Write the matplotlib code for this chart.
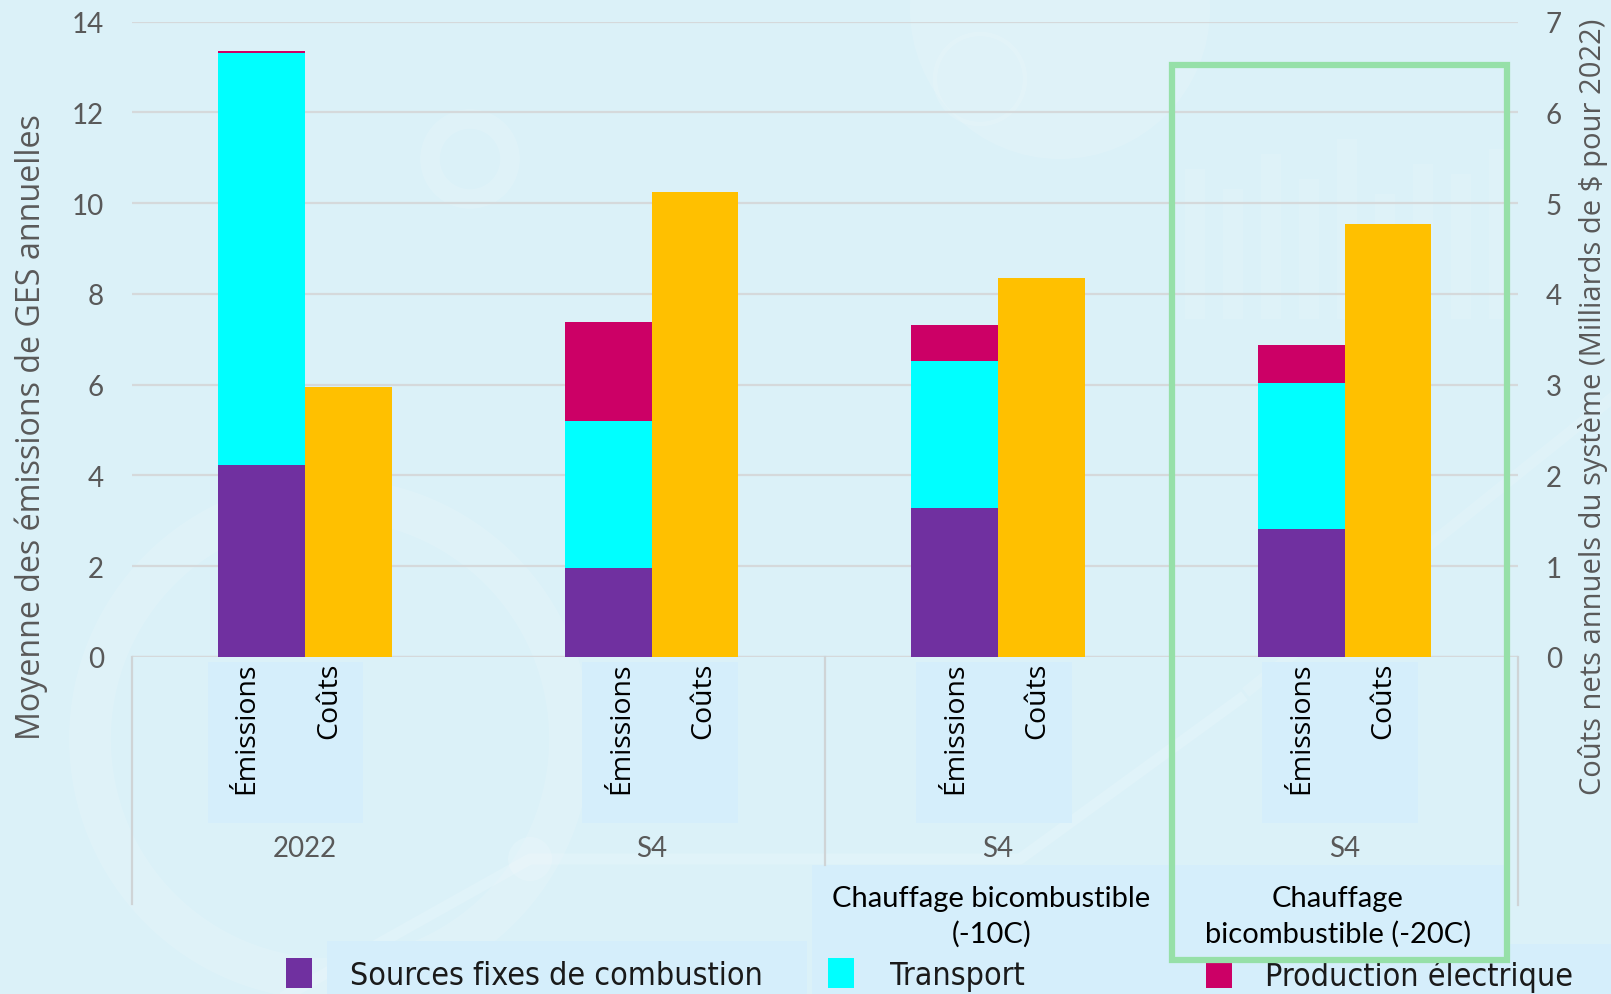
import matplotlib
matplotlib.use("Agg")
import matplotlib.pyplot as plt
from matplotlib import font_manager as fm
from matplotlib.patches import Rectangle, Circle
from matplotlib.transforms import blended_transform_factory

# ---- data -------------------------------------------------------------
scenarios = ["2022", "S4", "S4", "S4"]
bar_labels = ["Émissions", "Coûts"]
heating_labels = ["", "", "Chauffage bicombustible\n(-10C)", "Chauffage\nbicombustible (-20C)"]

# annual GHG emissions by source (left axis)
fixed_combustion = [4.23, 1.97, 3.28, 2.81]
transport = [9.07, 3.22, 3.24, 3.22]
electricity = [0.05, 2.20, 0.80, 0.84]
# annual net system costs, billions of 2022 $ (right axis)
net_costs = [2.97, 5.12, 4.17, 4.77]

series_names = ["Sources fixes de combustion", "Transport", "Production électrique"]
series_colors = ["#7030A0", "#00FFFF", "#CC0066"]
cost_color = "#FFC000"

# ---- fonts ------------------------------------------------------------
_fonts = fm.fontManager.ttflist
_names = {f.name for f in _fonts}
if "Liberation Sans Narrow" in _names:
    legend_font = dict(family="Liberation Sans Narrow", fontsize=25)
elif any(f.name == "DejaVu Sans" and "condensed" in str(f.stretch) for f in _fonts):
    legend_font = dict(family="DejaVu Sans", fontstretch="condensed", fontsize=23)
else:
    legend_font = dict(family="Lato", fontsize=24.5)

# ---- figure -----------------------------------------------------------
W, H = 1611, 995
fig = plt.figure(figsize=(W / 100, H / 100), dpi=100)
bg = "#dbf1f8"
fig.patch.set_facecolor(bg)

def px(x0, y0, x1, y1):
    """figure-fraction rectangle from pixel corners (top-left origin)"""
    return [x0 / W, 1 - y1 / H, (x1 - x0) / W, (y1 - y0) / H]

def fig_rect(x0, y0, x1, y1, **kw):
    r = px(x0, y0, x1, y1)
    fig.add_artist(Rectangle((r[0], r[1]), r[2], r[3], transform=fig.transFigure, **kw))

# faint decorative shapes on the backdrop
deco = fig.add_axes([0, 0, 1, 1], zorder=-5)
deco.set_xlim(0, W)
deco.set_ylim(H, 0)
deco.axis("off")
for (cx, cy, r, lw) in [(330, 740, 240, 30), (980, 80, 45, 3), (470, 160, 40, 14)]:
    deco.add_patch(Circle((cx, cy), r, fill=False, ec="white", lw=lw, alpha=0.13))
deco.add_patch(Circle((1060, 10), 150, fc="white", ec="none", alpha=0.12))
deco.plot([280, 530, 1020, 1240], [1000, 860, 860, 700], color="white", lw=8, alpha=0.15)
deco.plot([1250, 1611], [690, 400], color="white", lw=8, alpha=0.12)
deco.add_patch(Circle((530, 860), 22, fc="white", ec="none", alpha=0.15))
for i, h in enumerate([300, 260, 330, 280, 360, 250, 310, 290, 340]):
    deco.add_patch(Rectangle((1185 + i * 38, 320 - h * 0.5), 20, h * 0.5,
                             fc="white", ec="none", alpha=0.1))

# light boxes behind the category text (offsets within each group slot)
box_col = "#d5eefb"
slot = (1518 - 131.6) / 4
box_offsets = [0.219, 0.299, 0.262, 0.262]
for k, off in enumerate(box_offsets):
    x0 = 131.6 + (k + off) * slot
    fig_rect(x0, 663, x0 + 0.45 * slot, 824, fc=box_col, ec="none", zorder=0)
for (x0, x1, y0, y1) in [(812, 1172, 866, 995), (1172, 1506, 866, 958),
                         (327, 807, 942, 995), (1172, 1611, 945, 995)]:
    fig_rect(x0, y0, x1, y1, fc=box_col, ec="none", zorder=0)

# ---- main axes --------------------------------------------------------
ax = fig.add_axes(px(131.6, 22.6, 1518, 658))
ax.set_facecolor("none")
ax.set_xlim(0, 4)
ax.set_ylim(0, 14)
ax.set_yticks(range(0, 15, 2))
ax.grid(axis="y", color="#d5d9db", lw=1.6)
ax.set_axisbelow(True)
for s in ax.spines.values():
    s.set_visible(False)
ax.axhline(0, color="#d5d9db", lw=1.6, zorder=1)
ax.tick_params(axis="y", length=0, pad=20, labelsize=20, labelcolor="#595959")
ax.tick_params(axis="x", length=0, labelbottom=False)
for lab in ax.get_yticklabels():
    lab.set_fontfamily("Lato")

ax2 = ax.twinx()
ax2.set_ylim(0, 7)
ax2.set_yticks(range(0, 8))
for s in ax2.spines.values():
    s.set_visible(False)
ax2.tick_params(axis="y", length=0, pad=20, labelsize=20, labelcolor="#595959")
for lab in ax2.get_yticklabels():
    lab.set_fontfamily("Lato")

pos = list(range(len(scenarios)))
em_x = [p + 0.25 for p in pos]
co_x = [p + 0.5 for p in pos]
bottom = [0.0] * 4
for vals, col in zip([fixed_combustion, transport, electricity], series_colors):
    ax.bar(em_x, vals, width=0.25, bottom=bottom, align="edge", color=col, zorder=3)
    bottom = [b + v for b, v in zip(bottom, vals)]
ax2.bar(co_x, net_costs, width=0.25, align="edge", color=cost_color, zorder=3)

# axis titles
fig.text(31 / W, 1 - 427 / H, "Moyenne des émissions de GES annuelles", rotation=90,
         ha="center", va="center", fontsize=23.2, family="Open Sans", color="#595959")
fig.text(1593 / W, 1 - 407 / H, "Coûts nets annuels du système (Milliards de $ pour 2022)",
         rotation=90, ha="center", va="center", fontsize=21, family="Open Sans",
         color="#595959")

# ---- multi-level category axis ----------------------------------------
tr = blended_transform_factory(ax.transData, fig.transFigure)
for p, off in zip(pos, box_offsets):
    for dx, lab in zip([0.113, 0.35], bar_labels):
        ax.text(p + off + dx, 1 - 663 / H, lab, transform=tr, rotation=90, ha="center",
                va="top", fontsize=20.5, family="Open Sans", color="black")
    ax.text(p + 0.5, 1 - 849 / H, scenarios[p], transform=tr, ha="center", va="center",
            fontsize=20, family="Lato", color="#595959")
    if heating_labels[p]:
        ax.text(p + 0.48, 1 - 917 / H, heating_labels[p], transform=tr, ha="center",
                va="center", fontsize=21, family="Lato", color="black", linespacing=1.4)

sep_col = "#cfd4d6"
for xs, y_end in [(0, 905), (2, 866), (4, 906)]:
    ax.plot([xs, xs], [1 - 658 / H, 1 - y_end / H], transform=tr, color=sep_col,
            lw=1.6, clip_on=False)

# highlight frame around the last scenario
fig_rect(1172, 66, 1507, 961, fill=False, ec="#96e0a8", lw=4.5, zorder=10)

# ---- legend -----------------------------------------------------------
leg_items = [(286, 350), (828, 890), (1206, 1265)]
for (sx, tx), name, col in zip(leg_items, series_names, series_colors):
    fig_rect(sx, 959, sx + 26, 989, fc=col, ec="none")
    fig.text(tx / W, 1 - 977 / H, name, ha="left", va="center", color="#1a1a1a",
             **legend_font)

fig.savefig("out.png", dpi=100, facecolor=fig.get_facecolor())
